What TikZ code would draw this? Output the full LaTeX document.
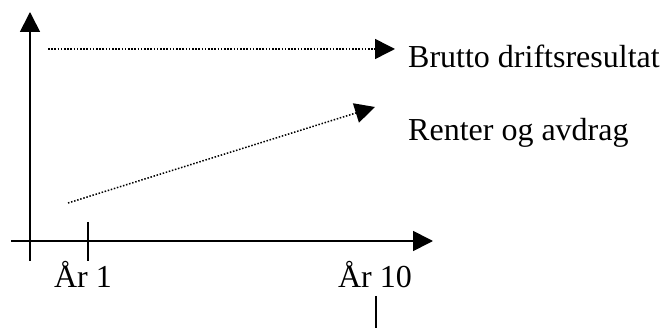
\documentclass[tikz,border=0pt]{standalone}
\usepackage{fontspec}
\setmainfont{Liberation Serif}
\usetikzlibrary{arrows.meta}
\begin{document}
\begin{tikzpicture}[x=1pt,y=-1pt,
  axis/.style={line width=1.7pt,-{Triangle[length=20pt,width=20pt]}},
  tickline/.style={line width=1.7pt},
  dotline/.style={line width=1.5pt,dash pattern=on 1.5pt off 1.7pt,-{Triangle[length=20pt,width=20pt]}},
  lbl/.style={inner sep=0pt,font=\fontsize{32}{38}\selectfont}]
\useasboundingbox (0,0) rectangle (664,328);
\coordinate (ybot) at (30,261);
\coordinate (ytop) at (30,12);
\coordinate (xleft) at (11,241);
\coordinate (xright) at (433,241);
\coordinate (t1a) at (88,222);
\coordinate (t1b) at (88,261);
\coordinate (t10a) at (376,296);
\coordinate (t10b) at (376,332);
\coordinate (d1a) at (48,49);
\coordinate (d1b) at (395,49);
\coordinate (d2a) at (68,203);
\coordinate (d2b) at (375,107);
\draw[axis] (ybot) -- (ytop);
\draw[axis] (xleft) -- (xright);
\draw[tickline] (t1a) -- (t1b);
\draw[tickline] (t10a) -- (t10b);
\draw[dotline] (d1a) -- (d1b);
\draw[dotline] (d2a) -- (d2b);
\node[lbl,anchor=base west] (brutto) at (408,68) {Brutto driftsresultat};
\node[lbl,anchor=base west] (renter) at (408,141) {Renter og avdrag};
\node[lbl,anchor=base] (ar1) at (83,288) {År 1};
\node[lbl,anchor=base] (ar10) at (375,288) {År 10};
\end{tikzpicture}
\end{document}
